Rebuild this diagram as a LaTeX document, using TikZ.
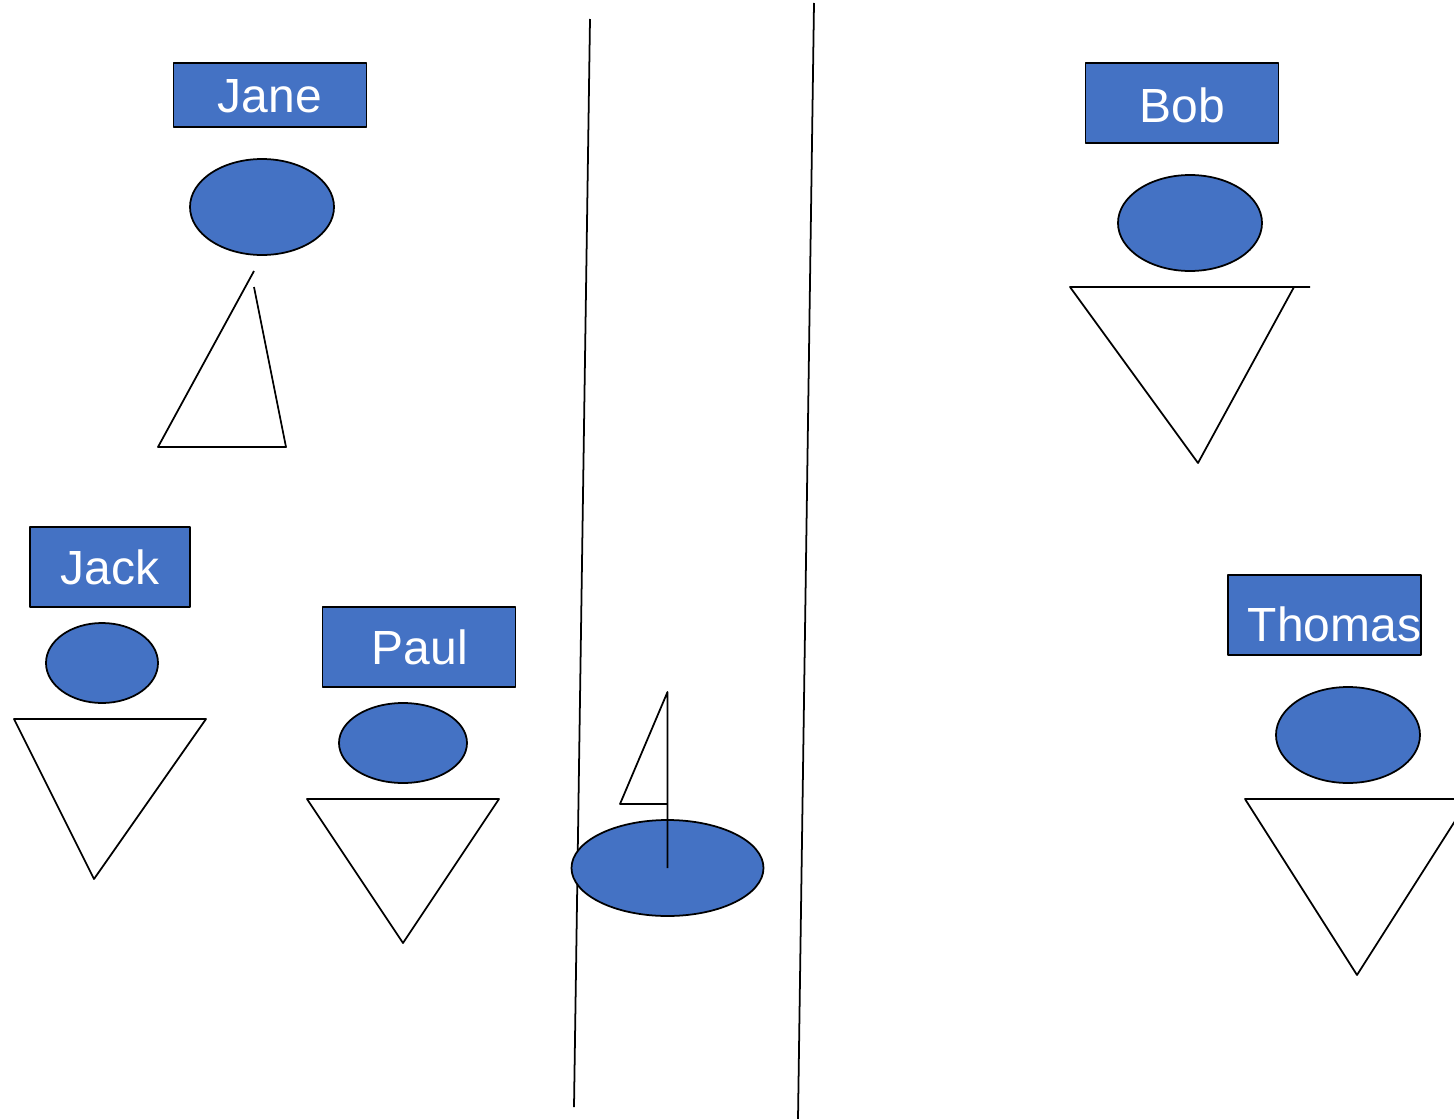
\documentclass[tikz,border=0pt]{standalone}
\usepackage{fontspec}
\setmainfont{Liberation Sans}
\usepackage{tikz}
\usetikzlibrary{positioning}
\definecolor{bleu}{HTML}{4472C4}

\begin{document}
\begin{tikzpicture}[x=0.02cm,y=-0.02cm,line width=1pt,line join=round,
				namebox/.style = {draw,fill=bleu,text=white,inner sep=0pt,
					font=\fontsize{27.3}{27.3}\selectfont,
					text height=19.5pt,text depth=0pt,
					minimum width=3.86cm,minimum height=1.6cm},
				head/.style = {draw,fill=bleu}]
				
				\clip (0,0) rectangle (1454,1119);
				
				% Road
				\draw (590,19) -- (574,1107);
				\draw (814,3) -- (798,1119);
				
				% Jane
				\node[namebox,minimum height=1.28cm] (jane) at (270,95) {Jane};
				\draw[head] (262,207) ellipse (72 and 48);
				\draw (254,271) -- (158,447) -- (286,447) -- (254,287);
				
				% Bob
				\node[namebox] (bob) at (1182,103) {\raisebox{-1.1pt}{Bob}};
				\draw[head] (1190,223) ellipse (72 and 48);
				\draw (1310,287) -- (1070,287) -- (1198,463) -- (1294,287);
				
				% Jack
				\node[namebox,minimum width=3.2cm] (jack) at (110,567) {Jack};
				\draw[head] (102,663) ellipse (56 and 40);
				\draw (14,719) -- (206,719) -- (94,879) -- cycle;
				
				% Paul
				\node[namebox] (paul) at (419,647) {\hspace*{1pt}Paul};
				\draw[head] (403,743) ellipse (64 and 40);
				\draw (307,799) -- (499,799) -- (403,943) -- cycle;
				
				% Thomas
				\node[namebox] (thomas) at (1324.5,615) {\hspace*{11.3pt}\raisebox{-5.1pt}{Thomas}};
				\draw[head] (1348,735) ellipse (72 and 48);
				\draw (1245,799) -- (1469,799) -- (1357,975) -- cycle;
				
				% Boat
				\draw[head] (667.5,868) ellipse (96 and 48);
				\draw (667.5,868) -- (667.5,692) -- (620,804) -- (667.5,804);
				
		\end{tikzpicture}
\end{document}
